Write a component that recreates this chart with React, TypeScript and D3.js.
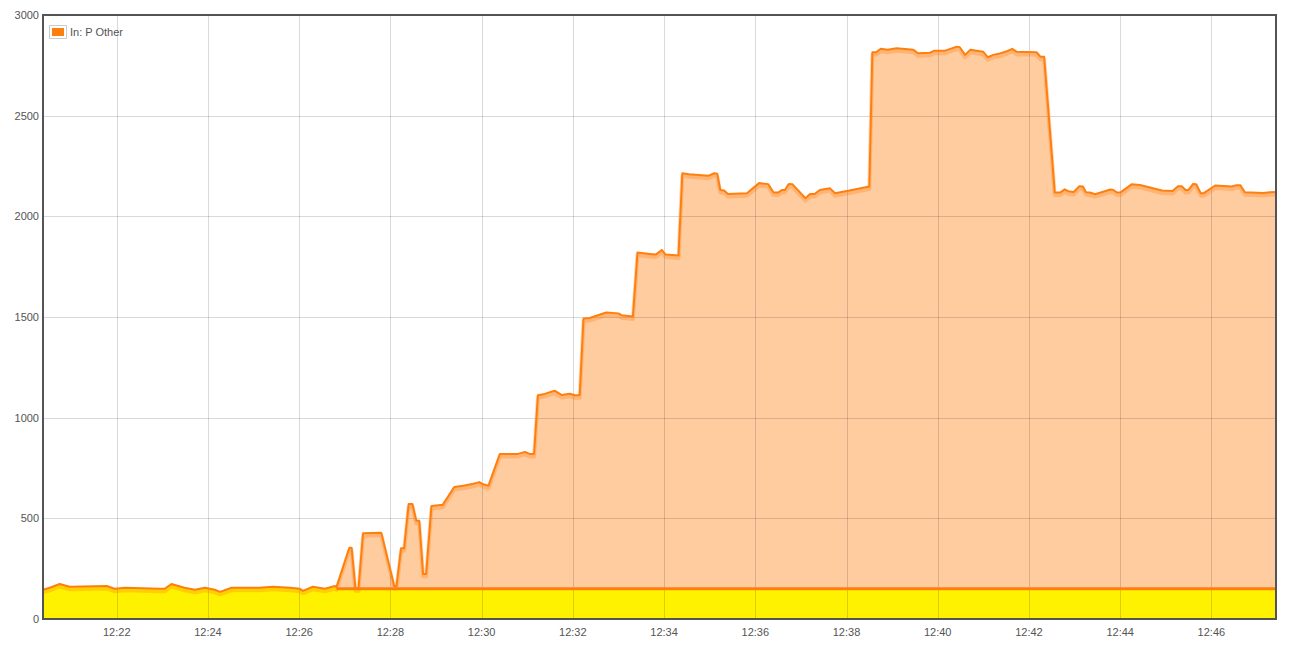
import { useMemo } from "react";
import * as d3 from "d3";

// samples of "In: P Other"
const times = [
  "12:20:23", "12:20:32", "12:20:45", "12:20:58", "12:21:47", "12:21:57", "12:22:11", "12:22:57",
  "12:23:03", "12:23:12", "12:23:29", "12:23:43", "12:23:56", "12:24:09", "12:24:16", "12:24:31",
  "12:25:08", "12:25:25", "12:25:48", "12:26:01", "12:26:05", "12:26:18", "12:26:34", "12:26:47",
  "12:26:49", "12:27:06", "12:27:09", "12:27:14", "12:27:18", "12:27:24", "12:27:48", "12:28:05",
  "12:28:08", "12:28:14", "12:28:18", "12:28:24", "12:28:29", "12:28:34", "12:28:38", "12:28:43",
  "12:28:47", "12:28:54", "12:29:09", "12:29:24", "12:29:36", "12:29:49", "12:29:57", "12:30:02",
  "12:30:09", "12:30:24", "12:30:48", "12:30:57", "12:31:03", "12:31:09", "12:31:14", "12:31:23",
  "12:31:36", "12:31:45", "12:31:56", "12:32:03", "12:32:09", "12:32:14", "12:32:22", "12:32:44",
  "12:33:00", "12:33:04", "12:33:19", "12:33:25", "12:33:41", "12:33:49", "12:33:57", "12:34:02",
  "12:34:19", "12:34:24", "12:34:33", "12:34:58", "12:35:06", "12:35:10", "12:35:14", "12:35:19",
  "12:35:24", "12:35:49", "12:36:05", "12:36:17", "12:36:24", "12:36:30", "12:36:35", "12:36:39",
  "12:36:44", "12:36:49", "12:37:06", "12:37:12", "12:37:18", "12:37:25", "12:37:38", "12:37:45",
  "12:38:04", "12:38:30", "12:38:34", "12:38:39", "12:38:45", "12:38:54", "12:39:06", "12:39:28",
  "12:39:34", "12:39:50", "12:39:55", "12:40:09", "12:40:25", "12:40:29", "12:40:36", "12:40:43",
  "12:40:51", "12:41:00", "12:41:06", "12:41:13", "12:41:20", "12:41:31", "12:41:38", "12:41:44",
  "12:42:10", "12:42:15", "12:42:20", "12:42:34", "12:42:41", "12:42:47", "12:42:53", "12:42:59",
  "12:43:06", "12:43:11", "12:43:15", "12:43:20", "12:43:27", "12:43:47", "12:43:51", "12:43:56",
  "12:44:01", "12:44:15", "12:44:26", "12:44:55", "12:45:09", "12:45:16", "12:45:21", "12:45:26",
  "12:45:30", "12:45:36", "12:45:40", "12:45:46", "12:45:50", "12:46:05", "12:46:27", "12:46:33",
  "12:46:38", "12:46:44", "12:47:08", "12:47:17", "12:47:25",
];

const values = [
  145, 155, 174, 160, 164, 150, 155, 150,
  150, 174, 155, 145, 155, 145, 135, 155,
  155, 160, 155, 150, 140, 160, 150, 164,
  157, 354, 354, 152, 152, 426, 429, 164,
  164, 351, 351, 571, 571, 488, 488, 224,
  224, 561, 568, 656, 662, 672, 680, 669,
  662, 820, 820, 830, 820, 820, 1111, 1118,
  1134, 1113, 1119, 1111, 1111, 1492, 1495, 1522,
  1518, 1509, 1502, 1820, 1813, 1810, 1833, 1810,
  1805, 2214, 2209, 2201, 2214, 2211, 2131, 2128,
  2111, 2115, 2165, 2160, 2118, 2118, 2131, 2131,
  2161, 2159, 2090, 2111, 2111, 2131, 2140, 2115,
  2128, 2148, 2815, 2815, 2832, 2827, 2835, 2827,
  2810, 2813, 2822, 2822, 2843, 2840, 2802, 2827,
  2822, 2817, 2790, 2802, 2807, 2820, 2832, 2817,
  2815, 2793, 2793, 2118, 2118, 2134, 2123, 2121,
  2149, 2148, 2120, 2118, 2110, 2133, 2131, 2118,
  2120, 2159, 2156, 2128, 2126, 2149, 2149, 2131,
  2131, 2161, 2159, 2115, 2115, 2153, 2148, 2155,
  2155, 2120, 2116, 2120, 2121,
];

// yellow base band: follows the series until the cutoff, then flat
const baseCutoff = "12:26:49";
const baseValue = 150;

const yTicks = [0, 500, 1000, 1500, 2000, 2500, 3000];
const xTicks = ["12:22", "12:24", "12:26", "12:28", "12:30", "12:32", "12:34", "12:36", "12:38", "12:40", "12:42", "12:44", "12:46"];
const seriesName = "In: P Other";

const W = 1293, H = 649;
const margin = { top: 15, right: 17, bottom: 30, left: 43 };
const font = "'Liberation Sans', Arial, sans-serif";
const orange = "#ff7f0e";

export default function App() {
  const parse = d3.timeParse("%H:%M:%S");
  const parseHM = d3.timeParse("%H:%M");

  const data = useMemo(() => times.map((t, i) => ({ t: parse(t)!, v: values[i] })), []);
  const cutoff = parse(baseCutoff)!;

  const x = d3.scaleTime()
    .domain([data[0].t, data[data.length - 1].t])
    .range([margin.left, W - margin.right]);
  const y = d3.scaleLinear()
    .domain([0, 3000])
    .range([H - margin.bottom, margin.top]);

  const area = d3.area<any>().x(d => x(d.t)).y0(y(0)).y1(d => y(d.v));
  const line = d3.line<any>().x(d => x(d.t)).y(d => y(d.v));

  // base band points
  const baseData = data.map(d => ({ t: d.t, v: d.t < cutoff ? d.v : baseValue }));
  const baseLine = [{ t: cutoff, v: baseValue }, { t: data[data.length - 1].t, v: baseValue }];

  const x0 = margin.left, x1 = W - margin.right, y0 = margin.top, y1 = H - margin.bottom;

  return (
    <svg width={W} height={H} style={{ position: "absolute", left: 0, top: 0, fontFamily: font }}>
      <rect width={W} height={H} fill="#fff" />
      <path d={area(data)!} fill={orange} fillOpacity={0.4} />
      <path d={area(baseData)!} fill="#fff200" />
      {/* grid */}
      <g stroke="#000" strokeOpacity={0.15} strokeWidth={1}>
        {yTicks.slice(1, -1).map(v => (
          <line key={v} x1={x0} x2={x1} y1={Math.round(y(v)) + 0.5} y2={Math.round(y(v)) + 0.5} />
        ))}
        {xTicks.map(s => {
          const px = Math.round(x(parseHM(s)!)) + 0.5;
          return <line key={s} x1={px} x2={px} y1={y0} y2={y1} />;
        })}
      </g>
      {/* shadow + line */}
      <path d={line(data)!} fill="none" stroke={orange} strokeOpacity={0.3} strokeWidth={4} transform="translate(0,2.5)" strokeLinejoin="round" />
      <path d={line(data)!} fill="none" stroke={orange} strokeWidth={2} strokeLinejoin="round" />
      <path d={line(baseLine)!} fill="none" stroke={orange} strokeWidth={3} />
      {/* frame */}
      <rect x={x0} y={y0} width={x1 - x0} height={y1 - y0} fill="none" stroke="#545454" strokeWidth={2} />
      {/* y labels */}
      <g fontSize={11} fill="#545454" textAnchor="end">
        {yTicks.map(v => (
          <text key={v} x={x0 - 4} y={y(v)} dy="0.35em">{v}</text>
        ))}
      </g>
      {/* x labels */}
      <g fontSize={11} fill="#545454" textAnchor="middle">
        {xTicks.map(s => (
          <text key={s} x={x(parseHM(s)!)} y={y1 + 17}>{s}</text>
        ))}
      </g>
      {/* legend */}
      <g>
        <rect x={49.5} y={25.5} width={17} height={13} fill="#fff" stroke="#ccc" />
        <rect x={52} y={28} width={12} height={8} fill={orange} />
        <text x={70} y={32} dy="0.35em" fontSize={11} fill="#545454">{seriesName}</text>
      </g>
    </svg>
  );
}
